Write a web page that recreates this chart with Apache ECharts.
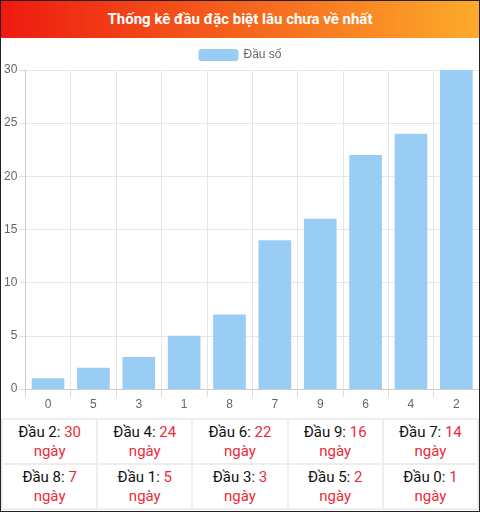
<!DOCTYPE html>
<html>
<head>
<meta charset="utf-8">
<script src="https://cdn.jsdelivr.net/npm/echarts@6/dist/echarts.min.js"></script>
<style>
  body { margin: 0; font-family: Roboto, sans-serif; }
  #wrap { width: 478px; height: 510px; border: 1px solid #222; overflow: hidden; }
  #title { height: 37px; line-height: 37px; text-align: center; color: #fff; font-weight: bold; font-size: 15px;
    background: linear-gradient(to right, #ee1a10, #fdab2a); }
  #chart { width: 478px; height: 380px; }
  table { width: 100%; border-collapse: collapse; table-layout: fixed; }
  td { border: 2px solid #eee; text-align: center; height: 43px; font-size: 15px; line-height: 19px; color: #111; padding: 0; }
  .r { color: #ee2a3a; }
</style>
</head>
<body>
<div id="wrap">
  <div id="title">Thống kê đầu đặc biệt lâu chưa về nhất</div>
  <div id="chart"></div>
  <table id="tbl"></table>
</div>
<script>
// chart data
const heads = ['0', '5', '3', '1', '8', '7', '9', '6', '4', '2'];
const days = [1, 2, 3, 5, 7, 14, 16, 22, 24, 30];
const tableHeads = ['2', '4', '6', '9', '7', '8', '1', '3', '5', '0'];
const tableDays = [30, 24, 22, 16, 14, 7, 5, 3, 2, 1];

const chart = echarts.init(document.getElementById('chart'));
chart.setOption({
  animation: false,
  legend: {
    top: 6,
    itemWidth: 40, itemHeight: 12,
    textStyle: { color: '#666', fontSize: 12 },
    data: ['Đầu số']
  },
  grid: { left: 22, right: 0, top: 32, bottom: 29 },
  xAxis: {
    type: 'category',
    data: heads,
    axisLine: { lineStyle: { color: '#ccc' } },
    axisTick: { show: true, alignWithLabel: false, length: 8, lineStyle: { color: '#ddd' } },
    axisLabel: { color: '#666', fontSize: 12, margin: 10 },
    splitLine: { show: true, lineStyle: { color: '#e6e6e6' } }
  },
  yAxis: {
    type: 'value',
    min: 0, max: 30, interval: 5,
    axisLine: { show: true, lineStyle: { color: '#ccc' } },
    axisTick: { show: true, length: 6, lineStyle: { color: '#ddd' } },
    axisLabel: { color: '#666', fontSize: 12, margin: 8 },
    splitLine: { lineStyle: { color: '#e6e6e6' } }
  },
  series: [{
    name: 'Đầu số',
    type: 'bar',
    data: days,
    barCategoryGap: '28%',
    itemStyle: { color: '#9acdf3' }
  }]
});

// table below the chart
let html = '';
for (let r = 0; r < 2; r++) {
  html += '<tr>';
  for (let c = 0; c < 5; c++) {
    const i = r * 5 + c;
    html += `<td>Đầu ${tableHeads[i]}: <span class="r">${tableDays[i]}</span><br><span class="r">ngày</span></td>`;
  }
  html += '</tr>';
}
document.getElementById('tbl').innerHTML = html;
</script>
</body>
</html>
